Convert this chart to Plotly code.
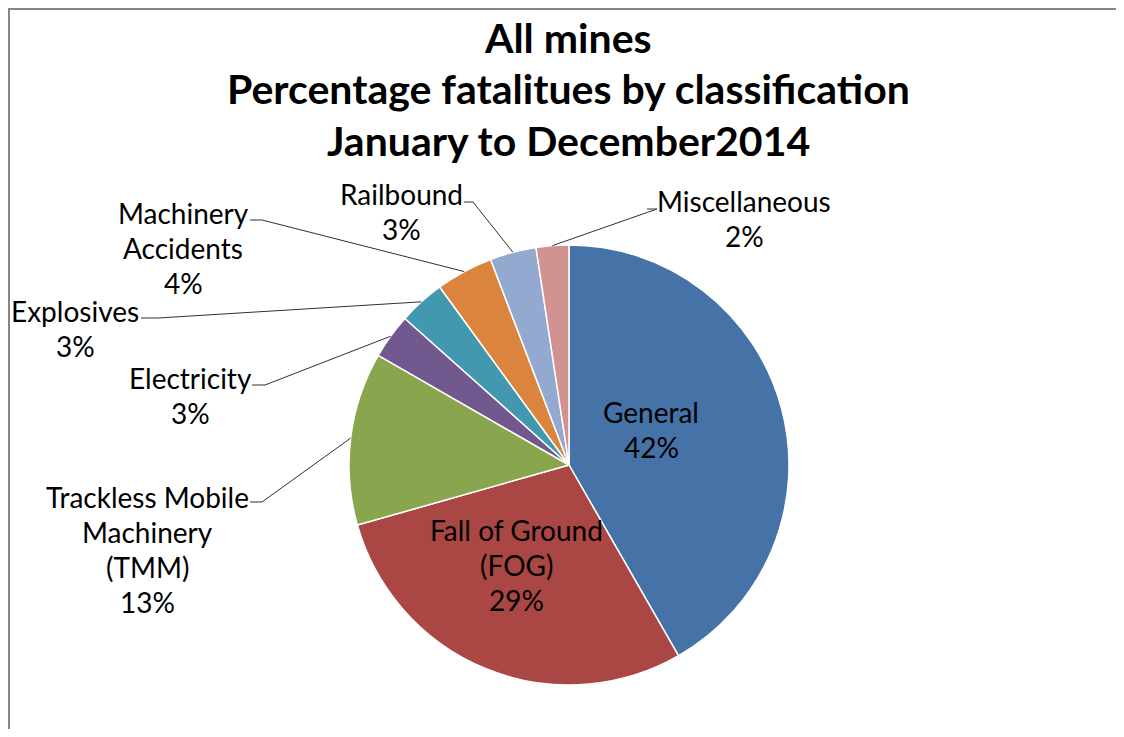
import math

import plotly.graph_objects as go

W, H = 1124, 737
OFF = 8  # the page body margin shifts the figure by 8px
FW, FH = W - 2 * OFF, H - 2 * OFF

# slices, clockwise from 12 o'clock
labels = [
    "General",
    "Fall of Ground (FOG)",
    "Trackless Mobile Machinery (TMM)",
    "Electricity",
    "Explosives",
    "Machinery Accidents",
    "Railbound",
    "Miscellaneous",
]
label_lines = [
    ["General"],
    ["Fall of Ground", "(FOG)"],
    ["Trackless Mobile", "Machinery", "(TMM)"],
    ["Electricity"],
    ["Explosives"],
    ["Machinery", "Accidents"],
    ["Railbound"],
    ["Miscellaneous"],
]
values = [41.7, 28.9, 12.7, 3.3, 3.4, 4.2, 3.4, 2.4]
colors = ["#4572A7", "#AA4643", "#89A54E", "#71588F",
          "#4198AF", "#DB843D", "#93A9CF", "#D19392"]

title_lines = ["All mines", "Percentage fatalitues by classification",
               "January to December2014"]

# layout (screen pixels)
cx, cy, R = 569, 465, 220
# label centre x, first line y, leader start (x, y, tick start x) or None when inside
label_pos = [
    (651, 412, None),
    (516, 530, None),
    (147, 497, (262, 502, 250)),
    (190, 378, (265, 385, 252)),
    (75, 311, (158, 318, 141)),
    (183, 213, (262, 220, 250)),
    (401, 194, (473, 202, 464)),
    (744, 201, (657, 209, 647)),
]
LINE_H = 35
FONT = "Lato, 'Open Sans', sans-serif"


def px(x):
    return (x - OFF) / FW


def py(y):
    return 1 - (y - OFF) / FH


fig = go.Figure(go.Pie(
    labels=labels,
    values=values,
    sort=False,
    direction="clockwise",
    rotation=0,
    marker=dict(colors=colors, line=dict(color="white", width=1.5)),
    textinfo="none",
    hoverinfo="label+percent",
    domain=dict(x=[px(cx - R), px(cx + R)], y=[py(cy + R), py(cy - R)]),
))

total = sum(values)
cum = 0
for i, v in enumerate(values):
    mid = (cum + v / 2) / total * 2 * math.pi
    cum += v
    pct = f"{round(v / total * 100)}%"
    tx, ty, lead = label_pos[i]
    for k, line in enumerate(label_lines[i] + [pct]):
        fig.add_annotation(
            x=px(tx), y=py(ty + k * LINE_H), xref="paper", yref="paper",
            text=line, showarrow=False, xanchor="center", yanchor="middle",
            font=dict(family=FONT, size=28, color="black"),
        )
    if lead:
        # leader line: short horizontal tick then to the slice edge
        ex = cx + R * math.sin(mid)
        ey = cy - R * math.cos(mid)
        x1, y1, x0 = lead
        fig.add_shape(
            type="path", xref="paper", yref="paper",
            path=f"M {px(x0)},{py(y1)} L {px(x1)},{py(y1)} L {px(ex)},{py(ey)}",
            line=dict(color="#303030", width=1),
        )

for k, line in enumerate(title_lines):
    fig.add_annotation(
        x=px(568), y=py(38 + k * 51), xref="paper", yref="paper",
        text=f"<b>{line}</b>", showarrow=False, xanchor="center",
        yanchor="middle", font=dict(family=FONT, size=41, color="black"),
    )

# chart border (left, top and right edges; bottom runs off the page)
fig.add_shape(type="rect", xref="paper", yref="paper",
              x0=px(OFF + 1), x1=px(1117), y0=-0.2, y1=py(OFF + 1),
              line=dict(color="#868686", width=2))

fig.update_layout(
    width=FW, height=FH,
    margin=dict(l=0, r=0, t=0, b=0),
    showlegend=False,
    paper_bgcolor="white",
    plot_bgcolor="white",
)

fig.write_html("out.html")
